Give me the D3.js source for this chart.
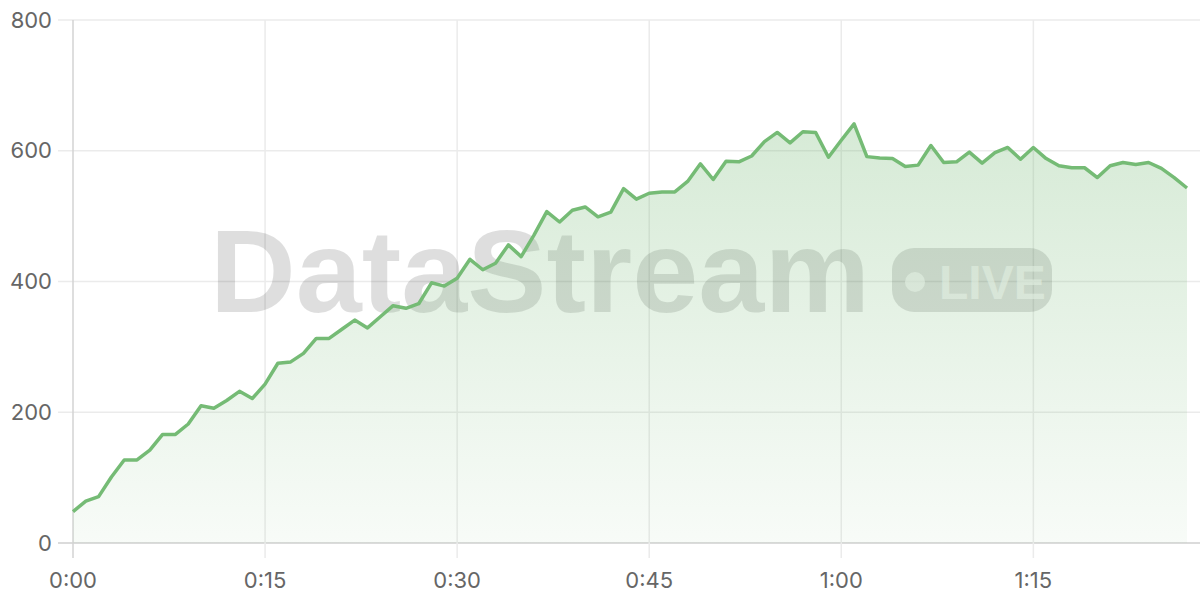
<!DOCTYPE html>
<html>
<head>
<meta charset="utf-8">
<script src="https://cdn.jsdelivr.net/npm/d3@7"></script>
<style>
  html, body { margin: 0; padding: 0; background: #fff; }
  svg { display: block; font-family: Inter, "Noto Sans", sans-serif; }
</style>
</head>
<body>
<svg width="1200" height="600"></svg>
<script>
// seconds since start, one reading per second
const seconds = d3.range(0, 88);
const viewers = [
  48, 64, 71, 101, 127, 127, 142, 166, 166, 182,
  210, 206, 218, 232, 221, 243, 275, 277, 290, 313,
  313, 327, 341, 329, 346, 363, 359, 366, 398, 393,
  405, 434, 418, 428, 456, 438, 471, 507, 491, 509,
  514, 499, 506, 542, 526, 535, 537, 537, 553, 580,
  556, 584, 583, 592, 614, 628, 612, 629, 628, 590,
  616, 641, 591, 589, 588, 576, 578, 608, 582, 583,
  598, 581, 597, 605, 587, 605, 588, 577, 574, 574,
  559, 577, 582, 579, 582, 573, 559, 543
];
const xTicks = [0, 15, 30, 45, 60, 75];
const xTickLabels = ['0:00', '0:15', '0:30', '0:45', '1:00', '1:15'];
const yTicks = [0, 200, 400, 600, 800];

const svg = d3.select('svg');
const m = {left: 73, right: 1187, top: 20, bottom: 543};

const x = d3.scaleLinear().domain([0, 87]).range([m.left, m.right]);
const y = d3.scaleLinear().domain([0, 800]).range([m.bottom, m.top]);

// gradient for the area under the line
const grad = svg.append('defs').append('linearGradient')
  .attr('id', 'fill').attr('x1', 0).attr('y1', 0).attr('x2', 0).attr('y2', 1);
grad.append('stop').attr('offset', '0%').attr('stop-color', '#6db56d').attr('stop-opacity', 0.28);
grad.append('stop').attr('offset', '100%').attr('stop-color', '#6db56d').attr('stop-opacity', 0.05);

// grid lines
svg.append('g')
  .selectAll('line').data(yTicks).enter().append('line')
  .attr('x1', m.left - 15).attr('x2', 1200)
  .attr('y1', d => y(d)).attr('y2', d => y(d))
  .attr('stroke', d => d === 0 ? '#cfcfcf' : '#ebebeb').attr('stroke-width', 1.5);
svg.append('g')
  .selectAll('line').data(xTicks).enter().append('line')
  .attr('x1', d => x(d)).attr('x2', d => x(d))
  .attr('y1', m.top).attr('y2', m.bottom + 15)
  .attr('stroke', d => d === 0 ? '#d3d3d3' : '#ebebeb').attr('stroke-width', 1.5);

// tick labels
svg.append('g')
  .selectAll('text').data(yTicks).enter().append('text')
  .attr('x', m.left - 21).attr('y', d => y(d)).attr('dy', '0.35em')
  .attr('text-anchor', 'end').attr('fill', '#666').style('font-size', '22px')
  .text(d => d);
svg.append('g')
  .selectAll('text').data(xTicks).enter().append('text')
  .attr('x', d => x(d)).attr('y', 580).attr('dy', '0.35em')
  .attr('text-anchor', 'middle').attr('fill', '#666').style('font-size', '22px')
  .text((d, i) => xTickLabels[i]);

// watermark
const wm = svg.append('g');
wm.append('text')
  .attr('x', 210).attr('y', 312)
  .attr('fill', '#000').attr('fill-opacity', 0.13)
  .style('font-family', '"Liberation Sans", Arial, sans-serif')
  .style('font-weight', 700).style('font-size', '117px')
  .attr('textLength', 660).attr('lengthAdjust', 'spacingAndGlyphs')
  .text('DataStream');
wm.append('rect')
  .attr('x', 892).attr('y', 248).attr('width', 160).attr('height', 64).attr('rx', 22)
  .attr('fill', '#000').attr('fill-opacity', 0.13);
wm.append('circle')
  .attr('cx', 915).attr('cy', 282).attr('r', 10)
  .attr('fill', '#fff').attr('fill-opacity', 0.6);
wm.append('text')
  .attr('x', 939).attr('y', 299)
  .attr('fill', '#fff').attr('fill-opacity', 0.6)
  .style('font-family', '"Liberation Sans", Arial, sans-serif')
  .style('font-weight', 700).style('font-size', '48px')
  .text('LIVE');

// area + line
const area = d3.area().x((d, i) => x(seconds[i])).y0(m.bottom).y1(d => y(d));
const line = d3.line().x((d, i) => x(seconds[i])).y(d => y(d));

svg.append('path').datum(viewers)
  .attr('d', area).attr('fill', 'url(#fill)');
svg.append('path').datum(viewers)
  .attr('d', line).attr('fill', 'none')
  .attr('stroke', '#75bb75').attr('stroke-width', 3.5)
  .attr('stroke-linejoin', 'round');
</script>
</body>
</html>
